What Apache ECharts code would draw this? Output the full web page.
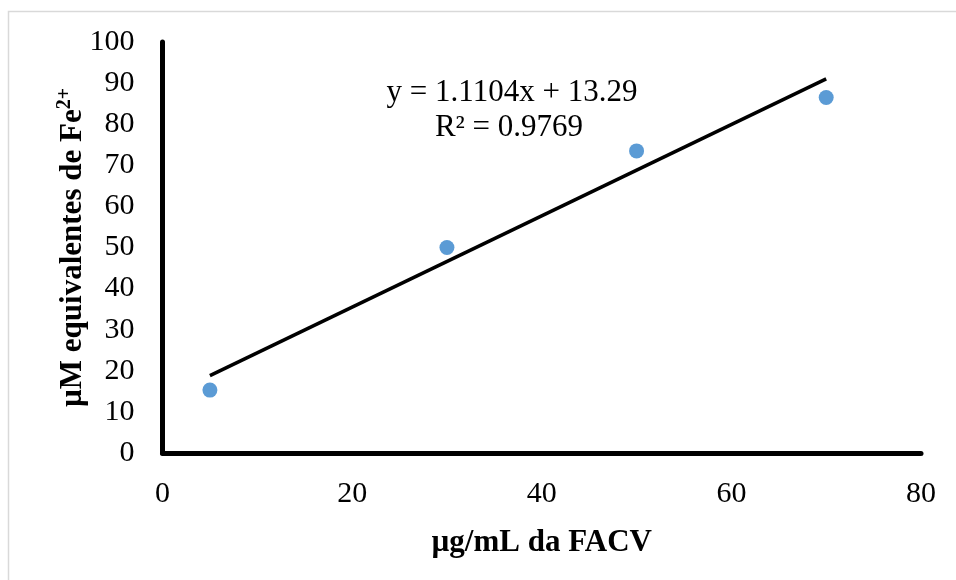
<!DOCTYPE html>
<html>
<head>
<meta charset="utf-8">
<style>
  html, body { margin: 0; padding: 0; background: #ffffff; }
  #chart { width: 956px; height: 580px; }
</style>
<script src="https://cdn.jsdelivr.net/npm/echarts@6/dist/echarts.min.js"></script>
</head>
<body>
<div id="chart"></div>
<script>
// Concentration of the FACV fraction (µg/mL)
const concentrations = [5, 30, 50, 70];
// Measured reducing power (µM Fe2+ equivalents)
const feEquivalents = [15.3, 50.0, 73.5, 86.5];
// Linear fit: y = slope * x + intercept
const fitSlope = 1.1104;
const fitIntercept = 13.29;
const fitR2 = 0.9769;
// Axis tick values
const xTicks = [0, 20, 40, 60, 80];
const yTicks = [0, 10, 20, 30, 40, 50, 60, 70, 80, 90, 100];

const fitRange = [concentrations[0], concentrations[concentrations.length - 1]];
const fitLine = fitRange.map(x => [x, fitSlope * x + fitIntercept]);

const serif = '"Liberation Serif", "Times New Roman", serif';

const chart = echarts.init(document.getElementById('chart'), null, { renderer: 'canvas' });

chart.setOption({
  backgroundColor: '#ffffff',
  animation: false,
  grid: { left: 162.5, right: 35, top: 42, bottom: 127, containLabel: false },
  xAxis: {
    type: 'value',
    min: xTicks[0],
    max: xTicks[xTicks.length - 1],
    interval: xTicks[1] - xTicks[0],
    name: 'µg/mL da FACV',
    nameLocation: 'middle',
    nameGap: 74,
    nameTextStyle: { fontFamily: serif, fontSize: 31, fontWeight: 'bold', color: '#000' },
    axisLine: { show: true, lineStyle: { color: '#000', width: 5 } },
    axisTick: { show: false },
    splitLine: { show: false },
    axisLabel: { fontFamily: serif, fontSize: 30, color: '#000', margin: 26 }
  },
  yAxis: {
    type: 'value',
    min: yTicks[0],
    max: yTicks[yTicks.length - 1],
    interval: yTicks[1] - yTicks[0],
    name: '{b|µM equivalentes de Fe}{sup|2+}',
    nameLocation: 'middle',
    nameGap: 72,
    nameMoveOverlap: false,
    nameRotate: 90,
    nameTextStyle: {
      rich: {
        b: { fontFamily: serif, fontSize: 31, fontWeight: 'bold', color: '#000' },
        sup: { fontFamily: serif, fontSize: 20, fontWeight: 'bold', color: '#000', verticalAlign: 'top', padding: [0, 0, 16, 0] }
      }
    },
    axisLine: { show: true, lineStyle: { color: '#000', width: 5 } },
    axisTick: { show: false },
    splitLine: { show: false },
    axisLabel: { fontFamily: serif, fontSize: 30, color: '#000', margin: 28 }
  },
  series: [
    {
      name: 'Ajuste linear',
      type: 'line',
      data: fitLine,
      symbol: 'none',
      lineStyle: { color: '#000', width: 3.5 },
      z: 2
    },
    {
      name: 'FACV',
      type: 'scatter',
      data: concentrations.map((x, i) => [x, feEquivalents[i]]),
      symbol: 'circle',
      symbolSize: 15,
      itemStyle: { color: '#5B9BD5', opacity: 1 },
      z: 3
    }
  ],
  graphic: [
    {
      type: 'rect',
      shape: { x: 8.5, y: 11.5, width: 1000, height: 700 },
      style: { fill: 'none', stroke: '#D9D9D9', lineWidth: 1.5 },
      silent: true,
      z: -1
    },
    {
      type: 'text',
      style: {
        x: 512, y: 93,
        text: 'y = ' + fitSlope.toFixed(4) + 'x + ' + fitIntercept.toFixed(2),
        font: '31px ' + serif,
        fill: '#000',
        align: 'center',
        verticalAlign: 'middle'
      }
    },
    {
      type: 'text',
      style: {
        x: 509, y: 128,
        text: 'R² = ' + fitR2.toFixed(4),
        font: '31px ' + serif,
        fill: '#000',
        align: 'center',
        verticalAlign: 'middle'
      }
    }
  ]
});
</script>
</body>
</html>
